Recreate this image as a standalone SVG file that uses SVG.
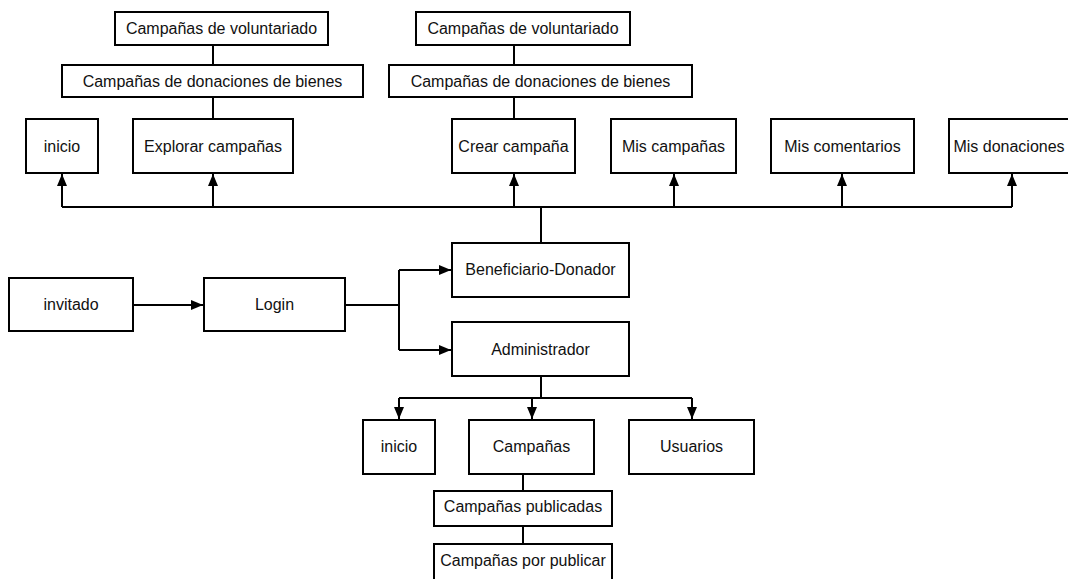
<svg xmlns="http://www.w3.org/2000/svg" width="1068" height="579" viewBox="0 0 1068 579">
<style>
.box{fill:#fff;stroke:#000;stroke-width:2}
.t{font-family:"Liberation Sans",Arial,sans-serif;font-size:16px;fill:#111;text-anchor:middle;dominant-baseline:central}
.c{fill:none;stroke:#000;stroke-width:2}
</style>
<defs>
<marker id="ah" markerUnits="userSpaceOnUse" markerWidth="12" markerHeight="10" refX="12" refY="5" orient="auto">
<path d="M0,0 L12,5 L0,10 z" fill="#000"/>
</marker>
</defs>
<rect width="1068" height="579" fill="#fff"/>
<g id="connectors">
<path class="c" d="M213,45 V65"/>
<path class="c" d="M213,97 V119"/>
<path class="c" d="M514,45 V65"/>
<path class="c" d="M514,97 V119"/>
<path class="c" d="M62,207 H1012"/>
<path class="c" d="M541,207 V243"/>
<path class="c" d="M62,207 V174" marker-end="url(#ah)"/>
<path class="c" d="M213,207 V174" marker-end="url(#ah)"/>
<path class="c" d="M514,207 V174" marker-end="url(#ah)"/>
<path class="c" d="M674,207 V174" marker-end="url(#ah)"/>
<path class="c" d="M842,207 V174" marker-end="url(#ah)"/>
<path class="c" d="M1012,207 V174" marker-end="url(#ah)"/>
<path class="c" d="M133,305 H203" marker-end="url(#ah)"/>
<path class="c" d="M345,305 H399"/>
<path class="c" d="M399,270 V350"/>
<path class="c" d="M399,270 H451" marker-end="url(#ah)"/>
<path class="c" d="M399,350 H451" marker-end="url(#ah)"/>
<path class="c" d="M541,376 V398"/>
<path class="c" d="M399,398 H692"/>
<path class="c" d="M399,398 V419" marker-end="url(#ah)"/>
<path class="c" d="M532,398 V419" marker-end="url(#ah)"/>
<path class="c" d="M692,398 V419" marker-end="url(#ah)"/>
<path class="c" d="M523,474 V491"/>
<path class="c" d="M523,526 V544"/>
</g>
<g id="vol1"><rect class="box" x="115" y="12" width="213" height="33"/><text class="t" x="221.5" y="28.5">Campañas de voluntariado</text></g>
<g id="don1"><rect class="box" x="62" y="65" width="301" height="32"/><text class="t" x="212.5" y="81">Campañas de donaciones de bienes</text></g>
<g id="inicio1"><rect class="box" x="26" y="119" width="72" height="54"/><text class="t" x="62" y="146">inicio</text></g>
<g id="explorar"><rect class="box" x="133" y="119" width="160" height="54"/><text class="t" x="213" y="146">Explorar campañas</text></g>
<g id="vol2"><rect class="box" x="416" y="12" width="214" height="33"/><text class="t" x="523" y="28.5">Campañas de voluntariado</text></g>
<g id="don2"><rect class="box" x="389" y="65" width="303" height="32"/><text class="t" x="540.5" y="81">Campañas de donaciones de bienes</text></g>
<g id="crear"><rect class="box" x="452" y="119" width="123" height="54"/><text class="t" x="513.5" y="146">Crear campaña</text></g>
<g id="miscampanas"><rect class="box" x="611" y="119" width="125" height="54"/><text class="t" x="673.5" y="146">Mis campañas</text></g>
<g id="miscomentarios"><rect class="box" x="771" y="119" width="143" height="54"/><text class="t" x="842.5" y="146">Mis comentarios</text></g>
<g id="misdonaciones"><rect class="box" x="949" y="119" width="130" height="54"/><text class="t" x="1009" y="146">Mis donaciones</text></g>
<g id="benef"><rect class="box" x="452" y="243" width="177" height="54"/><text class="t" x="540.5" y="269">Beneficiario-Donador</text></g>
<g id="admin"><rect class="box" x="452" y="322" width="177" height="54"/><text class="t" x="540.5" y="349">Administrador</text></g>
<g id="invitado"><rect class="box" x="9" y="278" width="124" height="53"/><text class="t" x="71" y="304">invitado</text></g>
<g id="login"><rect class="box" x="204" y="278" width="141" height="53"/><text class="t" x="274.5" y="304">Login</text></g>
<g id="inicio2"><rect class="box" x="363" y="420" width="72" height="54"/><text class="t" x="399" y="446">inicio</text></g>
<g id="campanas"><rect class="box" x="469" y="420" width="125" height="54"/><text class="t" x="531.5" y="446">Campañas</text></g>
<g id="usuarios"><rect class="box" x="629" y="420" width="125" height="54"/><text class="t" x="691.5" y="446">Usuarios</text></g>
<g id="publicadas"><rect class="box" x="434" y="491" width="178" height="35"/><text class="t" x="523" y="506">Campañas publicadas</text></g>
<g id="porpublicar"><rect class="box" x="434" y="544" width="178" height="40"/><text class="t" x="523" y="560">Campañas por publicar</text></g>
</svg>
